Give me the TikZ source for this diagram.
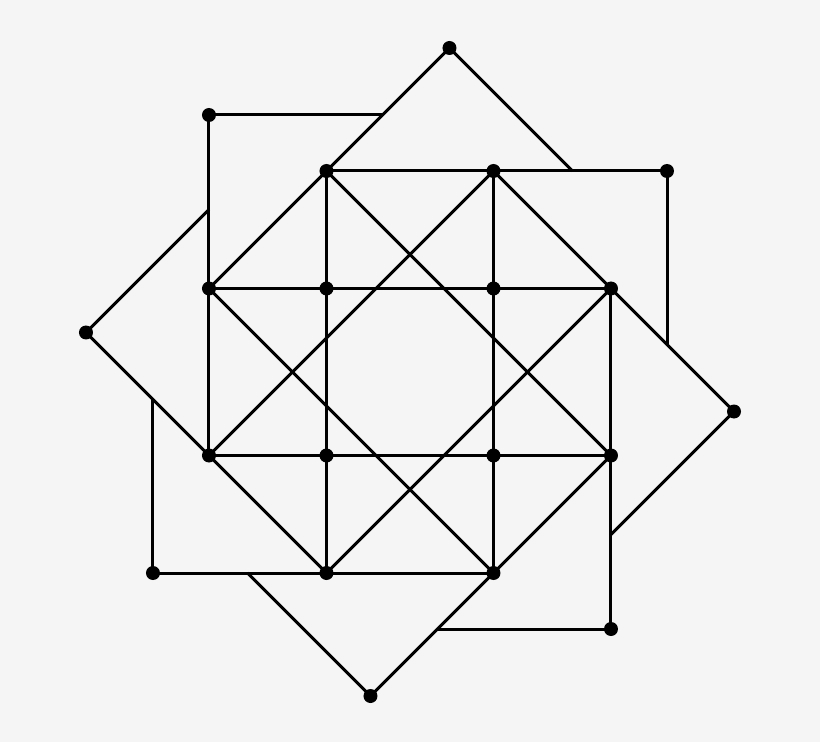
\documentclass[tikz,border=0pt]{standalone}
\definecolor{bgc}{RGB}{245,245,245}
\begin{document}
\begin{tikzpicture}[x=1pt,y=1pt,
  edge/.style={line width=3pt,line join=round},
  dot/.style={circle,fill=black,inner sep=0pt,minimum size=14pt}]
\fill[bgc] (-410,-370) rectangle (410,372);
\useasboundingbox (-410,-370) rectangle (410,372);
% points, repeated under quarter turns (clockwise)
\foreach \k in {0,1,2,3}{
  \begin{scope}[rotate=-90*\k]
    \node[dot] (V\k) at (-83.5,201) {};
    \node[dot] (W\k) at (83.5,201) {};
    \node[dot] (G\k) at (-83.5,83.5) {};
    \node[dot] (Q\k) at (-201,257) {};
    \node[dot] (P\k) at (39.5,324) {};
    \coordinate (Qe\k) at (-27.5,257);
    \coordinate (Pe\k) at (162.5,201);
  \end{scope}
}
% connectors
\foreach \k in {0,1,2,3}{
  \pgfmathtruncatemacro{\kA}{mod(\k+1,4)}
  \pgfmathtruncatemacro{\kC}{mod(\k+3,4)}
  \draw[edge] (Qe\k) -- (Q\k.center) -- (V\kC.center);
  \draw[edge] (Pe\k) -- (P\k.center) -- (W\kC.center);
  \draw[edge] (W\kC.center) -- (V\kA.center);
  \draw[edge] (V\k.center) -- (W\kA.center);
}
\end{tikzpicture}
\end{document}
